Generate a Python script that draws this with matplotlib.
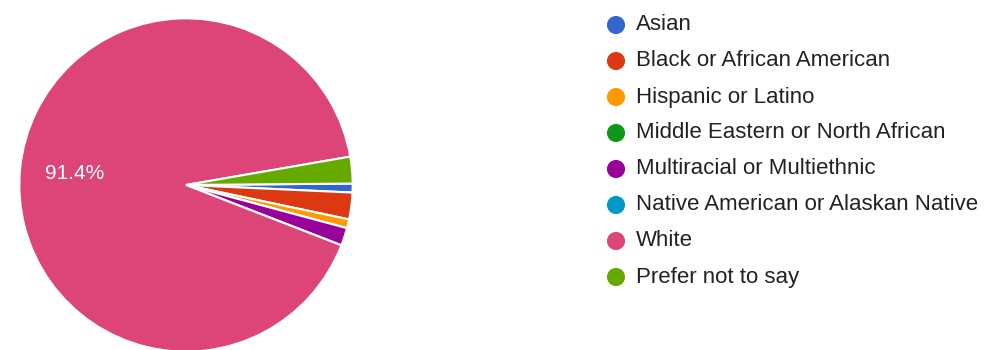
import matplotlib
matplotlib.use("Agg")
import matplotlib.pyplot as plt

categories = ["Asian", "Black or African American", "Hispanic or Latino",
              "Middle Eastern or North African", "Multiracial or Multiethnic",
              "Native American or Alaskan Native", "White", "Prefer not to say"]
counts = [1, 3, 1, 0, 2, 0, 106, 3]
colors = ["#3366cc", "#dc3912", "#ff9900", "#109618", "#990099",
          "#0099c6", "#dd4477", "#66aa00"]

plt.rcParams['font.family'] = ['Liberation Sans', 'DejaVu Sans']

W, H = 987, 350
fig = plt.figure(figsize=(W / 100, H / 100), dpi=100)
fig.patch.set_facecolor("white")

# pie axes: center (186,185) px, radius 170 px
r = 170
cx, cy = 186, 185
ax = fig.add_axes([(cx - r) / W, (H - cy - r) / H, 2 * r / W, 2 * r / H])

def fmt(p):
    return f"{p:.1f}%" if p > 10 else ""

wedges, texts, autotexts = ax.pie(
    counts, colors=colors, startangle=0.5, counterclock=False,
    autopct=fmt, pctdistance=0.67,
    wedgeprops=dict(edgecolor="white", linewidth=1.5),
    textprops=dict(color="white", fontsize=15))
ax.set_xlim(-1.02, 1.02)
ax.set_ylim(-1.02, 1.02)
ax.set_aspect("equal")
ax.axis("off")

# legend
lax = fig.add_axes([0, 0, 1, 1])
lax.set_xlim(0, W)
lax.set_ylim(H, 0)
lax.axis("off")
y0, dy = 25, 36.0
for i, (lab, col) in enumerate(zip(categories, colors)):
    y = y0 + i * dy
    lax.scatter([616], [y], s=170, color=col, edgecolors="none")
    lax.text(636, y, lab, fontsize=16, color="#222222", va="center", ha="left")

fig.savefig("out.png", dpi=100, facecolor="white")
